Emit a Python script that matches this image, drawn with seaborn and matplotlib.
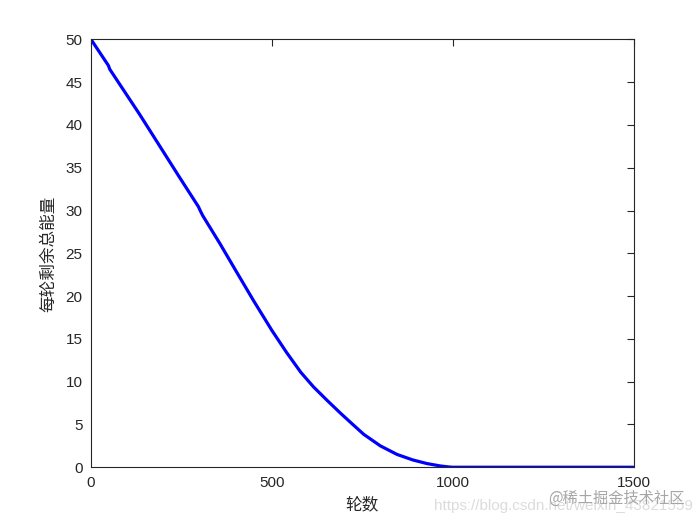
import numpy as np
import pandas as pd
import matplotlib
matplotlib.use("Agg")
import matplotlib.pyplot as plt
import seaborn as sns

# data
rounds = [0, 48, 52, 135, 246, 297, 303, 309, 357, 400, 449, 500, 541, 580, 615, 652,
          689, 720, 754, 800, 846, 890, 929, 966, 990, 1000, 1500]
energy = [50, 46.95, 46.5, 41.2, 33.8, 30.45, 29.9, 29.4, 26.1, 23.0, 19.5, 16.0, 13.4,
          11.1, 9.4, 7.85, 6.35, 5.15, 3.85, 2.5, 1.5, 0.85, 0.43, 0.15, 0.03, 0, 0]
xticks = [0, 500, 1000, 1500]
yticks = list(range(0, 51, 5))
xlabel = "轮数"
ylabel = "每轮剩余总能量"

sns.set_style("white")
plt.rcParams["font.family"] = ["Liberation Sans", "Noto Sans CJK SC", "DejaVu Sans"]

df = pd.DataFrame({"rounds": rounds, "energy": energy})

fig = plt.figure(figsize=(7, 5.25), dpi=100)
ax = fig.add_axes([0.13, 0.11, 0.775, 0.815])
sns.lineplot(data=df, x="rounds", y="energy", ax=ax, color="#0000ff", linewidth=2.3)

ax.set_xlim(0, 1500)
ax.set_ylim(0, 50)
ax.set_xticks(xticks)
ax.set_yticks(yticks)
ax.tick_params(direction="in", length=5, width=0.8, top=True, right=True,
               labelsize=11, colors="#262626", pad=6)
for s in ax.spines.values():
    s.set_visible(True)
    s.set_color("#262626")
    s.set_linewidth(0.8)

cjk = ["Noto Sans CJK SC", "DejaVu Sans"]
ax.set_xlabel(xlabel, fontsize=12, family=cjk, color="#262626", labelpad=5)
ax.set_ylabel(ylabel, fontsize=12, family=cjk, color="#262626", labelpad=6)

fig.text(0.99, 0.036, "https://blog.csdn.net/weixin_43821559", ha="right", va="center",
         fontsize=11, color="#dcdcdc")
fig.text(0.978, 0.05, "@稀土掘金技术社区", ha="right", va="center", fontsize=11,
         family=cjk, color="#a6a6a6")

fig.savefig("out.png", dpi=100, facecolor="white")
